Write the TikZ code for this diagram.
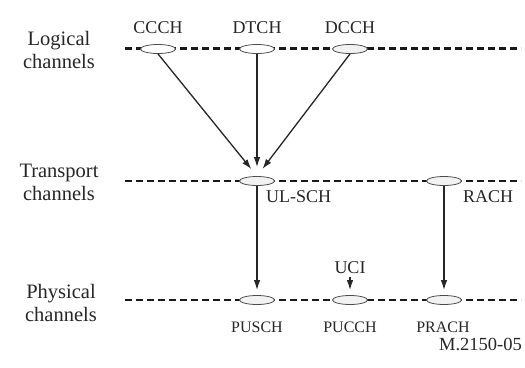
\documentclass[tikz,border=0pt]{standalone}
\usepackage{fontspec}
\setmainfont{Liberation Serif}
\newfontfamily\tms{Liberation Serif}
\usetikzlibrary{shapes.geometric,arrows.meta}
\begin{document}
\begin{tikzpicture}[x=1pt,y=-1pt,
  chan/.style={ellipse,draw=black!70,fill=black!5,minimum width=35pt,minimum height=9pt,inner sep=0pt,line width=0.8pt},
  lvl/.style={dash pattern=on 7pt off 4pt,line width=2.3pt,black!90},
  arr/.style={-{Latex[length=10pt,width=6.5pt]},line width=1.3pt,black!85},
  big/.style={font=\tms\fontsize{20.5}{23}\selectfont,align=center,anchor=base,inner sep=0pt,text=black!85},
  lab/.style={font=\tms\fontsize{18}{20}\selectfont,anchor=base,inner sep=0pt,text=black!85},
  small/.style={font=\tms\fontsize{16}{18}\selectfont,anchor=base,inner sep=0pt,text=black!85}]
\useasboundingbox (0,0) rectangle (525,367);
% level lines
\coordinate (l0) at (125,48.5);  \coordinate (l1) at (521,48.5);
\coordinate (t0) at (125,181);   \coordinate (t1) at (521,181);
\coordinate (p0) at (125,300);   \coordinate (p1) at (521,300);
\draw[lvl] (l0) -- (l1);
\draw[lvl] (t0) -- (t1);
\draw[lvl] (p0) -- (p1);
% level names (base = last line)
\node[big] (logical) at (59,68) {Logical\\channels};
\node[big] (transport) at (59,200) {Transport\\channels};
\node[big] (physical) at (61,321) {Physical\\channels};
% channels
\node[chan,fill=white] (ccch) at (158,49) {};
\node[chan,fill=white] (dtch) at (257,49) {};
\node[chan] (dcch) at (350,49) {};
\node[chan] (ulsch) at (257,181) {};
\node[chan] (rach) at (444,181) {};
\node[chan] (pusch) at (257,300) {};
\node[chan] (pucch) at (350,300) {};
\node[chan] (prach) at (444,300) {};
% labels
\node[lab] (ccchl) at (158,33) {CCCH};
\node[lab] (dtchl) at (257,33) {DTCH};
\node[lab] (dcchl) at (350,33) {DCCH};
\node[lab,anchor=base west] (ulschl) at (266,202) {UL-SCH};
\node[lab,anchor=base west] (rachl) at (463,202) {RACH};
\node[lab] (uci) at (350,273) {UCI};
\node[small] (puschl) at (257,332) {PUSCH};
\node[small] (pucchl) at (350,332) {PUCCH};
\node[small] (prachl) at (443,332) {PRACH};
\node[lab,font=\tms\fontsize{18.5}{20}\selectfont,anchor=base east] (code) at (522,350) {M.2150-05};
% arrows
\draw[arr,shorten >=9pt] (ccch.south) -- (ulsch.north);
\draw[arr,shorten >=9pt] (dtch.south) -- (ulsch.north);
\draw[arr,shorten >=9pt] (dcch.south) -- (ulsch.north);
\draw[arr,shorten >=5pt] (ulsch.south) -- (pusch.north);
\draw[arr,shorten >=5pt] (rach.south) -- (prach.north);
\draw[arr,shorten <=4pt,shorten >=5pt] (uci.south) -- (pucch.north);
\end{tikzpicture}
\end{document}
